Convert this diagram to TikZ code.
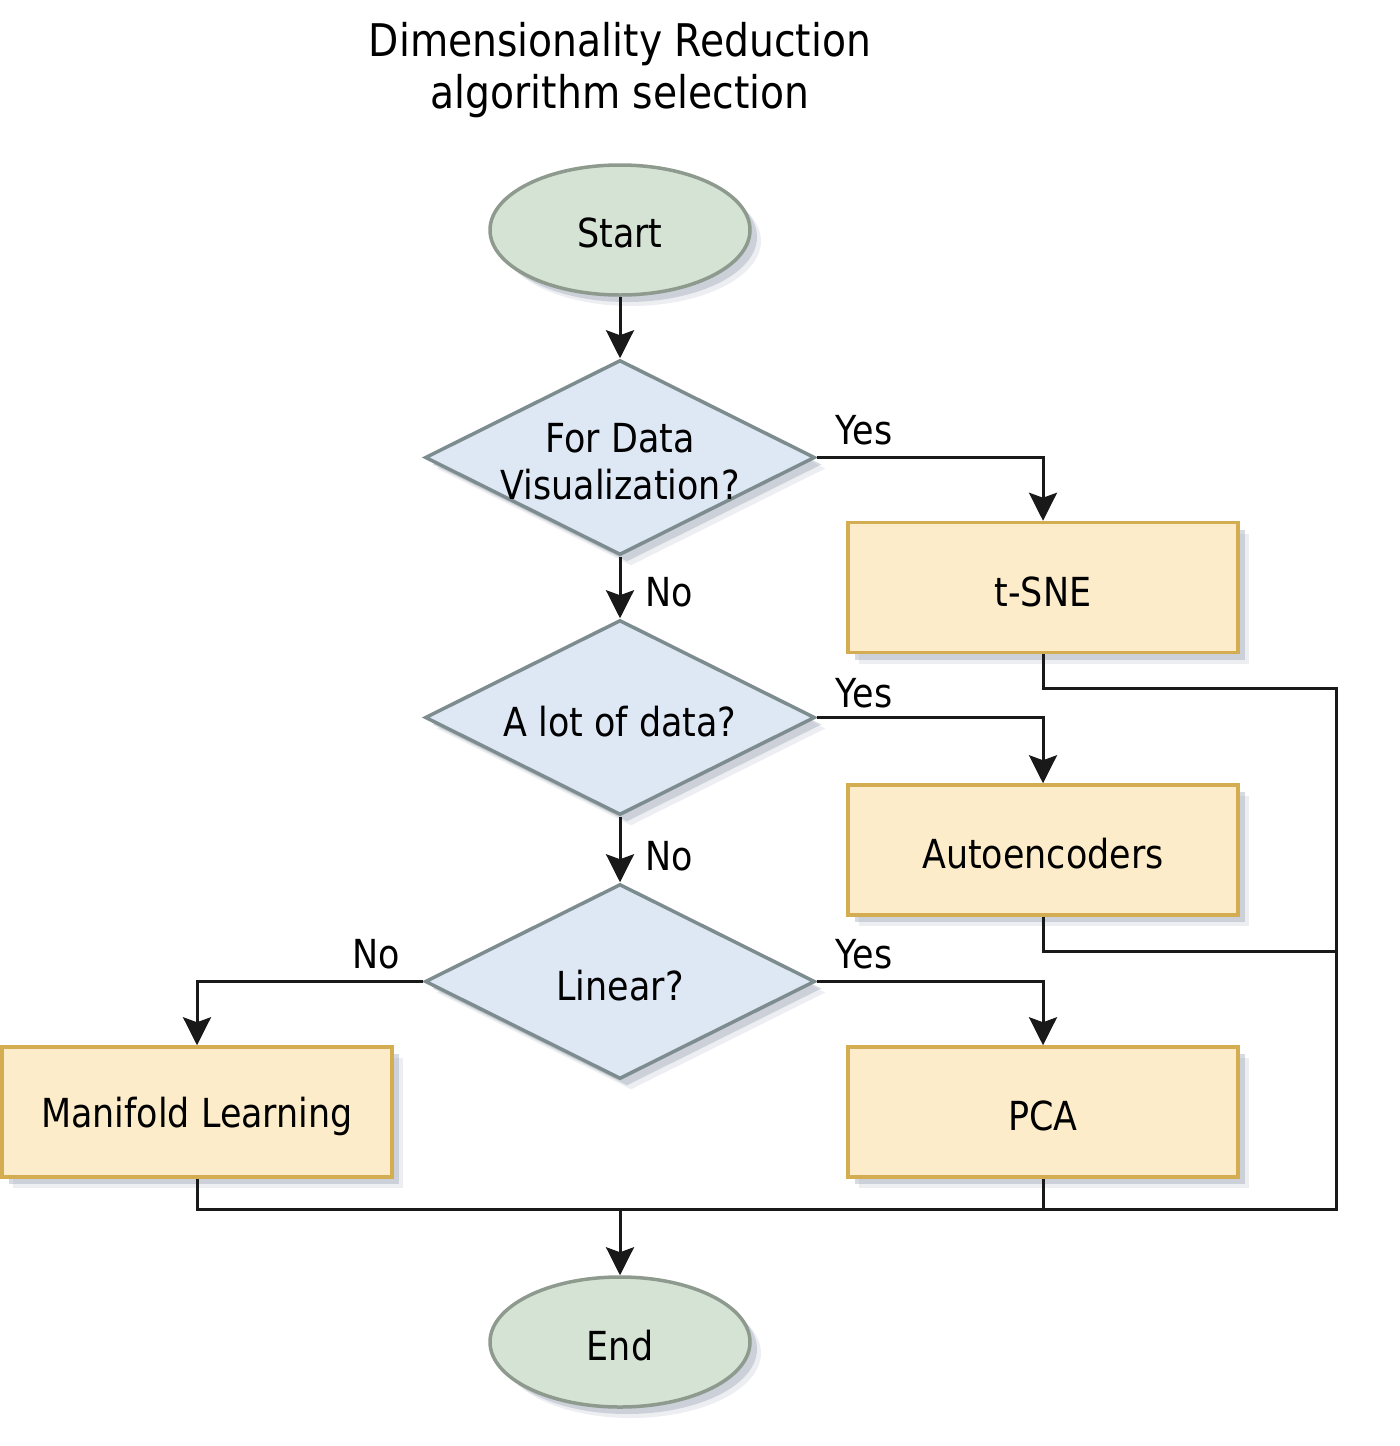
\documentclass[tikz,border=0pt]{standalone}
\usepackage{fontspec}
\setmainfont[FakeStretch=0.873]{DejaVu Sans}
\usetikzlibrary{shapes.geometric,shadows,arrows.meta}
\definecolor{ellfill}{HTML}{D5E3D4}
\definecolor{ellline}{HTML}{8E9A8E}
\definecolor{diafill}{HTML}{DEE7F4}
\definecolor{dialine}{HTML}{7D8C8E}
\definecolor{boxfill}{HTML}{FDECC9}
\definecolor{boxline}{HTML}{D4AD52}
\definecolor{shcol}{HTML}{9AA2B4}
\tikzset{
  shd/.style={drop shadow={shadow xshift=11pt,shadow yshift=-11pt,fill=shcol,opacity=0.18},
              drop shadow={shadow xshift=7pt,shadow yshift=-7pt,fill=shcol,opacity=0.4}},
  txt/.style={font=\fontsize{40}{47}\selectfont,align=center,text=black},
  term/.style={ellipse,draw=ellline,fill=ellfill,line width=3.5pt,minimum width=260pt,minimum height=130pt,inner sep=0pt,shd,txt,text depth=0pt,yshift=0pt},
  decide/.style={diamond,draw=dialine,fill=diafill,line width=3.5pt,minimum width=390pt,minimum height=195pt,inner sep=0pt,shd},
  proc/.style={rectangle,draw=boxline,fill=boxfill,line width=3.5pt,minimum width=390pt,minimum height=130pt,inner sep=0pt,shd},
  conn/.style={line width=3pt,draw=black!90},
  arr/.style={conn,-{Stealth[length=28pt,width=28pt,inset=5pt]}},
  lbl/.style={txt}
}
\begin{document}
\begin{tikzpicture}[x=1pt,y=-1pt]
\useasboundingbox (0,0) rectangle (1400,1446);
\node[font=\fontsize{45}{52}\selectfont,align=center] (title) at (620,70) {Dimensionality Reduction\\algorithm selection};
\node[term,label={[txt,yshift=-3pt]center:Start}] (start) at (620,230) {};
\node[decide,label={[txt,yshift=-4pt]center:For Data\\Visualization?}] (d1) at (620,457.5) {};
\node[decide,label={[txt,yshift=-4pt]center:A lot of data?}] (d2) at (620,717.5) {};
\node[decide,label={[txt,yshift=-4pt]center:Linear?}] (d3) at (620,981.5) {};
\node[proc,label={[txt,yshift=-4pt]center:t-SNE}] (tsne) at (1043,587.5) {};
\node[proc,label={[txt,yshift=-4pt]center:Autoencoders}] (auto) at (1043,850) {};
\node[proc,label={[txt,yshift=-4pt]center:PCA}] (pca) at (1043,1112) {};
\node[proc,label={[txt,yshift=-4pt]center:Manifold Learning}] (man) at (197,1112) {};
\node[term,label={[txt,yshift=-4pt]center:End}] (end) at (620,1342) {};
\coordinate (j) at (620,1209);
\coordinate (rb) at (1336,1209);
\coordinate (t1) at (1336,688);
\coordinate (a1) at (1336,951);
\draw[arr] (start) -- (d1);
\draw[arr] (d1.east) -| (tsne.north);
\draw[arr] (d1.south) -- (d2.north);
\draw[arr] (d2.east) -| (auto.north);
\draw[arr] (d2.south) -- (d3.north);
\draw[arr] (d3.east) -| (pca.north);
\draw[arr] (d3.west) -| (man.north);
\draw[conn] (tsne.south) |- (t1) -- (rb) -- (j);
\draw[conn] (auto.south) |- (a1);
\draw[conn] (pca.south) |- (j);
\draw[conn] (man.south) |- (j);
\draw[arr] (j) -- (end.north);
\node[lbl] (y1) at (864,430) {Yes};
\node[lbl] (y2) at (864,693) {Yes};
\node[lbl] (y3) at (864,954) {Yes};
\node[lbl] (n1) at (669,592) {No};
\node[lbl] (n2) at (669,856) {No};
\node[lbl] (n3) at (376,954) {No};
\end{tikzpicture}
\end{document}
